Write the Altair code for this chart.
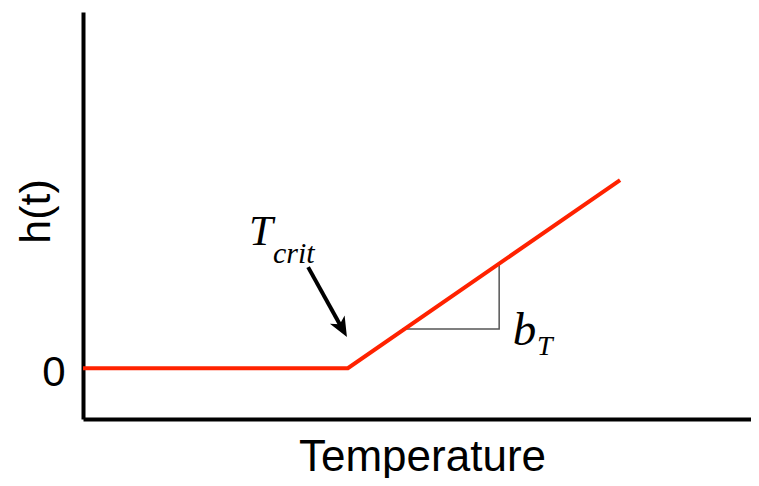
import altair as alt
import pandas as pd

# ---- data (axis units: temperature 0..20, h(t) -1..7) ----
curve_x = [0.0, 7.93, 16.08]
curve_y = [0.0, 0.0, 3.695]

slope_x = [9.55, 12.46, 12.46]
slope_y = [0.767, 0.767, 2.05]

arrow_x = [6.74]
arrow_y = [1.985]
arrow_x2 = [7.75]
arrow_y2 = [0.79]

labels_main = ["T", "b"]
labels_main_x = [4.97, 12.87]
labels_main_y = [2.418, 0.452]
labels_main_size = [43, 47]

labels_sub = ["crit", "T"]
labels_sub_x = [5.69, 13.59]
labels_sub_y = [2.064, 0.256]
labels_sub_size = [30, 28]

y_ticks = [0]

xs = alt.Scale(domain=[0, 20], nice=False, zero=False)
ys = alt.Scale(domain=[-1, 7], nice=False, zero=False)

xaxis = alt.Axis(
    title="Temperature", labels=False, ticks=False, grid=False,
    domainColor="black", domainWidth=4,
    titleFont="Liberation Sans", titleFontSize=44, titleFontWeight="normal",
    titleColor="black", titlePadding=16, titleX=339, titleAlign="center",
)
yaxis = alt.Axis(
    title="h(t)", values=y_ticks, ticks=False, grid=False,
    domainColor="black", domainWidth=4,
    labelFont="Liberation Sans", labelFontSize=42, labelColor="black",
    labelPadding=18, labelOffset=4,
    titleFont="Liberation Sans", titleFontSize=43, titleFontWeight="normal",
    titleColor="black", titleAngle=270, titleBaseline="alphabetic",
    titleAlign="center", titleX=-34, titleY=199,
)

def X(f="x"):
    return alt.X(f + ":Q", scale=xs, axis=xaxis)

def Y(f="y"):
    return alt.Y(f + ":Q", scale=ys, axis=yaxis)

curve_df = pd.DataFrame({"x": curve_x, "y": curve_y, "o": range(len(curve_x))})
slope_df = pd.DataFrame({"x": slope_x, "y": slope_y, "o": range(len(slope_x))})
arrow_df = pd.DataFrame({"x": arrow_x, "y": arrow_y, "x2": arrow_x2, "y2": arrow_y2})
main_df = pd.DataFrame({"x": labels_main_x, "y": labels_main_y, "t": labels_main, "s": labels_main_size})
sub_df = pd.DataFrame({"x": labels_sub_x, "y": labels_sub_y, "t": labels_sub, "s": labels_sub_size})

curve = alt.Chart(curve_df).mark_line(color="#ff2200", strokeWidth=4).encode(
    x=X(), y=Y(), order="o:Q")

slope = alt.Chart(slope_df).mark_line(color="#555555", strokeWidth=1.5).encode(
    x=X(), y=Y(), order="o:Q")

arrow_line = alt.Chart(arrow_df).mark_rule(color="black", strokeWidth=4).encode(
    x=X(), y=Y(), x2="x2:Q", y2="y2:Q")

arrow_head = alt.Chart(arrow_df).mark_point(
    shape="M0,1 L-0.8,-0.9 L0,-0.4 L0.8,-0.9 Z", filled=True, color="black",
    opacity=1, size=441, angle=331, strokeWidth=0,
).encode(x=X("x2"), y=Y("y2"))

main_txt = alt.Chart(main_df).mark_text(
    font="Liberation Serif", fontStyle="italic", align="left",
    baseline="alphabetic", color="black",
).encode(x=X(), y=Y(), text="t:N", size=alt.Size("s:Q", scale=None, legend=None))

sub_txt = alt.Chart(sub_df).mark_text(
    font="Liberation Serif", fontStyle="italic", align="left",
    baseline="alphabetic", color="black",
).encode(x=X(), y=Y(), text="t:N", size=alt.Size("s:Q", scale=None, legend=None))

chart = alt.layer(slope, curve, arrow_line, arrow_head, main_txt, sub_txt).properties(
    width=668, height=407,
    autosize=alt.AutoSizeParams(type="none"),
    padding={"left": 75, "top": 4, "right": 0, "bottom": 59},
    view=alt.ViewBackground(stroke="transparent", strokeWidth=0),
).configure_view(strokeWidth=0, stroke="transparent").configure_axis(
    gridColor="transparent", gridWidth=0
).configure(background="white")

chart.save("out.html", embed_options={"renderer": "svg", "actions": False})
